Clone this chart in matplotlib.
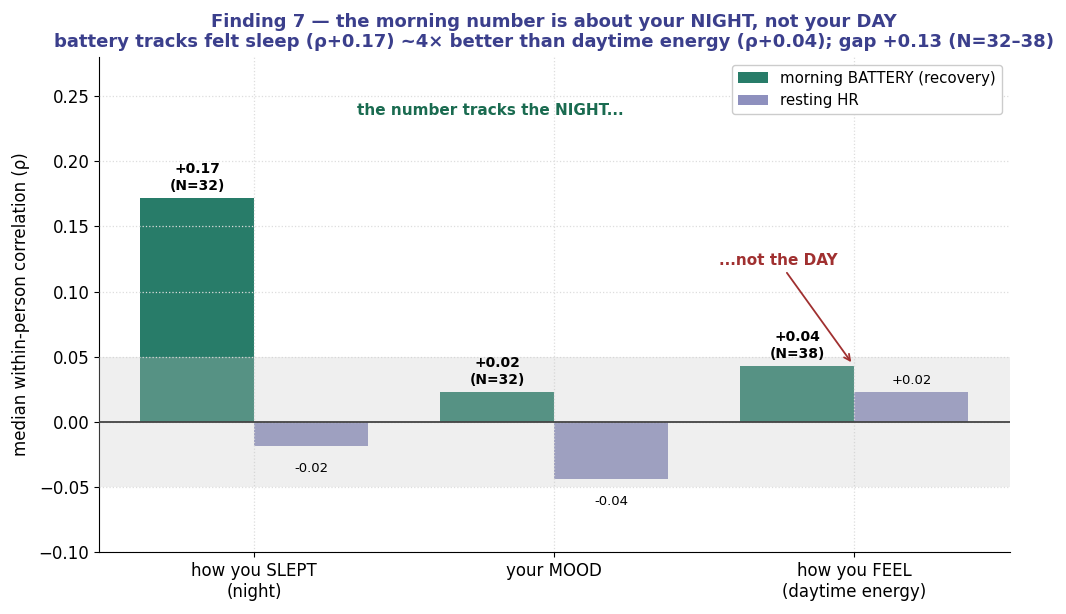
import matplotlib
matplotlib.use("Agg")
import matplotlib.pyplot as plt
import numpy as np

categories = ["how you SLEPT\n(night)", "your MOOD", "how you FEEL\n(daytime energy)"]
battery_vals = [0.172, 0.023, 0.043]
battery_n = [32, 32, 38]
hr_vals = [-0.019, -0.044, 0.023]
series_names = ["morning BATTERY (recovery)", "resting HR"]

plt.rcParams['font.family'] = ['DejaVu Sans']
fig, ax = plt.subplots(figsize=(10.66, 6.14), dpi=100)
fig.subplots_adjust(left=0.093, right=0.947, top=0.907, bottom=0.101)

x = np.arange(len(categories))
w = 0.38
green = "#287c69"
purple = "#8e90be"

ax.bar(x - w/2, battery_vals, w, color=green, label=series_names[0], zorder=2)
ax.bar(x + w/2, hr_vals, w, color=purple, label=series_names[1], zorder=2)

ax.axhspan(-0.05, 0.05, color="#c8c8c8", alpha=0.29, zorder=3, lw=0)
ax.axhline(0, color="#444444", lw=1.3, zorder=4)

for xi, v, n in zip(x, battery_vals, battery_n):
    ax.text(xi - w/2, v + 0.004, f"{v:+.2f}\n(N={n})", ha="center", va="bottom",
            fontsize=10, fontweight="bold", zorder=5)
for xi, v in zip(x, hr_vals):
    if v < 0:
        ax.text(xi + w/2, v - 0.012, f"{v:+.2f}", ha="center", va="top", fontsize=9.5, zorder=5)
    else:
        ax.text(xi + w/2, v + 0.004, f"{v:+.2f}", ha="center", va="bottom", fontsize=9.5, zorder=5)

ax.text(0.787, 0.239, "the number tracks the NIGHT...", ha="center", va="center",
        fontsize=11, fontweight="bold", color="#1a6b50")
ax.annotate("...not the DAY", xy=(1.995, 0.044), xytext=(1.745, 0.124),
            ha="center", va="center", fontsize=11, fontweight="bold", color="#a03030",
            arrowprops=dict(arrowstyle="->", color="#a03030", lw=1.3), zorder=6)

ax.set_xlim(-0.517, 2.517)
ax.set_ylim(-0.1, 0.28)
ax.set_xticks(x)
ax.set_xticklabels(categories, fontsize=12)
ax.tick_params(axis="y", labelsize=12)
ax.set_ylabel("median within-person correlation (ρ)", fontsize=12, labelpad=6)
ax.grid(True, linestyle=":", color="#dddddd", lw=0.9, zorder=3)
ax.set_axisbelow(False)
for s in ["top", "right"]:
    ax.spines[s].set_visible(False)

ax.set_title("Finding 7 — the morning number is about your NIGHT, not your DAY\n"
             "battery tracks felt sleep (ρ+0.17) ~4× better than daytime energy (ρ+0.04); gap +0.13 (N=32–38)",
             fontsize=13, fontweight="bold", color="#3b3f8c", pad=7)

leg = ax.legend(loc="upper right", fontsize=10.8, framealpha=1, edgecolor="#cccccc")
fig.savefig("out.png", dpi=100)
